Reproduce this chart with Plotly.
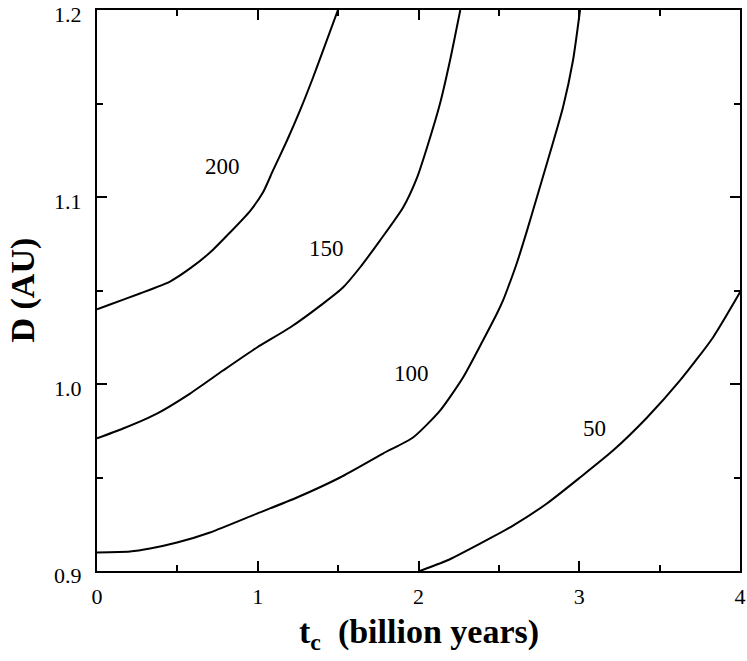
import plotly.graph_objects as go

# Contour curves: t_c (billion years) vs D (AU)
t_200 = [0.0, 0.081, 0.267, 0.454, 0.579, 0.703, 0.827, 0.952, 1.033, 1.095, 1.182, 1.263, 1.344, 1.406, 1.499]
d_200 = [1.040, 1.0425, 1.0484, 1.0548, 1.0618, 1.0703, 1.081, 1.0925, 1.1025, 1.1142, 1.1302, 1.1463, 1.1639, 1.1783, 1.2]

t_150 = [0.0, 0.162, 0.373, 0.579, 0.784, 0.995, 1.201, 1.406, 1.530, 1.636, 1.760, 1.904, 1.991, 2.053, 2.134, 2.196, 2.260]
d_150 = [0.9709, 0.9762, 0.9842, 0.9949, 1.0072, 1.0195, 1.0302, 1.043, 1.0516, 1.0623, 1.0767, 1.0944, 1.1104, 1.1265, 1.15, 1.173, 1.2]

t_100 = [0.0, 0.205, 0.330, 0.498, 0.703, 0.995, 1.244, 1.512, 1.779, 1.966, 2.134, 2.277, 2.401, 2.488,
         2.526, 2.557, 2.613, 2.675, 2.737, 2.799, 2.899, 2.961, 3.005]
d_100 = [0.9099, 0.9104, 0.912, 0.9152, 0.9206, 0.9307, 0.9393, 0.95, 0.9628, 0.9714, 0.9858, 1.0035, 1.0233, 1.0377,
         1.0447, 1.0516, 1.065, 1.082, 1.100, 1.118, 1.148, 1.173, 1.2]

t_50 = [2.009, 2.177, 2.383, 2.588, 2.799, 3.005, 3.210, 3.422, 3.627, 3.832, 4.0]
d_50 = [0.9, 0.9056, 0.9147, 0.9243, 0.9361, 0.95, 0.9644, 0.9821, 1.0019, 1.0249, 1.049]

curve_labels = ["200", "150", "100", "50"]
label_t = [0.782, 1.429, 1.958, 3.092]
label_d = [1.1163, 1.0723, 1.0055, 0.976]

x_ticks = [0, 1, 2, 3, 4]
y_ticks = [0.9, 1.0, 1.1, 1.2]

FONT = "Liberation Serif"

fig = go.Figure()
for t, d in [(t_200, d_200), (t_150, d_150), (t_100, d_100), (t_50, d_50)]:
    fig.add_trace(go.Scatter(x=t, y=d, mode="lines",
                             line=dict(color="black", width=2, shape="spline", smoothing=0.6),
                             showlegend=False, hoverinfo="skip"))

for lab, tx, ty in zip(curve_labels, label_t, label_d):
    fig.add_annotation(x=tx, y=ty, text=lab, showarrow=False,
                       font=dict(family=FONT, size=23, color="black"))

# axis titles
fig.add_annotation(xref="paper", yref="paper", x=-0.1166, y=0.5, xanchor="center", yanchor="middle",
                   text="<b>D (AU)</b>", textangle=-90,
                   showarrow=False, font=dict(family=FONT, size=34, color="black"))
fig.add_annotation(xref="paper", yref="paper", x=0.5, y=-0.113, xanchor="center", yanchor="middle",
                   text="<b>t<sub>c</sub>  (billion years)</b>",
                   showarrow=False, font=dict(family=FONT, size=34, color="black"))

axis_common = dict(
    showgrid=False, zeroline=False, showline=True, linecolor="black", linewidth=2,
    mirror="ticks", ticks="inside", ticklen=10, tickwidth=1.5, tickcolor="black",
    tickfont=dict(family=FONT, size=22, color="black"), automargin=False,
    ticklabeloverflow="allow",
)

fig.update_xaxes(range=[0, 4], tickvals=x_ticks, ticktext=[str(v) for v in x_ticks], ticklabelstandoff=5,
                 minor=dict(dtick=0.5, ticks="inside", ticklen=6, tickwidth=1.5, tickcolor="black", showgrid=False),
                 **axis_common)
fig.update_yaxes(range=[0.9, 1.2], tickvals=y_ticks, ticktext=["0.9", "1.0", "1.1", "1.2"], ticklabelstandoff=9,
                 ticklabelshift=4,
                 minor=dict(dtick=0.05, ticks="inside", ticklen=6, tickwidth=1.5, tickcolor="black", showgrid=False),
                 **axis_common)

fig.update_layout(
    width=747, height=661,
    margin=dict(l=97, r=7, t=10, b=90),
    plot_bgcolor="white", paper_bgcolor="white",
    font=dict(family=FONT, color="black"),
)

fig.write_html("out.html", config={"displayModeBar": False},
               post_script="document.body.style.margin='0px';")
